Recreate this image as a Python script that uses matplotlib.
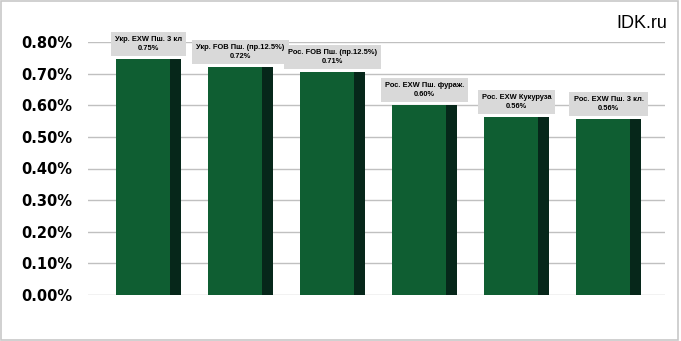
import numpy as np
import matplotlib.pyplot as plt
from matplotlib.patches import Rectangle

names = ["Укр. EXW Пш. 3 кл", "Укр. FOB Пш. (пр.12.5%)", "Рос. FOB Пш. (пр.12.5%)",
         "Рос. EXW Пш. фураж.", "Рос. EXW Кукуруза", "Рос. EXW Пш. 3 кл."]
values = [0.746, 0.720, 0.706, 0.601, 0.563, 0.557]   # percent
yticks = [0.0, 0.1, 0.2, 0.3, 0.4, 0.5, 0.6, 0.7, 0.8]

front_color = "#0f5e32"
side_color = "#06271a"

fig = plt.figure(figsize=(6.81, 3.41), dpi=100)
fig.patches.append(Rectangle((0.002, 0.004), 0.994, 0.992, transform=fig.transFigure,
                             fill=False, edgecolor="#c8c8c8", linewidth=1.2))

ax = fig.add_axes([88 / 681, 46 / 341, 577 / 681, 253 / 341])
x = np.arange(len(values))
front_w = 0.587
side_w = 0.12
left = x - (front_w + side_w) / 2

ax.bar(left, values, width=front_w, align="edge", color=front_color, zorder=3)
ax.bar(left + front_w, values, width=side_w, align="edge", color=side_color, zorder=3)

for xi, v, name in zip(x, values, names):
    ax.annotate(f"{name}\n{v:.2f}%", xy=(xi, v), xytext=(0, 5), textcoords="offset points",
                ha="center", va="bottom", fontsize=5.4, fontweight="bold",
                family="Liberation Sans", linespacing=1.4, annotation_clip=False, zorder=5,
                bbox=dict(boxstyle="square,pad=0.55", facecolor="#d9d9d9", edgecolor="none"))

ax.set_ylim(0, 0.8)
ax.set_xlim(-0.658, 5.614)
ax.set_yticks(yticks)
ax.set_yticklabels([f"{t:.2f}%" for t in yticks], fontsize=10.5, fontweight="bold")
ax.set_xticks([])
ax.tick_params(axis="y", length=0, pad=11)
ax.grid(axis="y", color="#c0c0c0", linewidth=1, zorder=0)
for s in ax.spines.values():
    s.set_visible(False)

fig.text(667 / 681, 1 - 23 / 341, "IDK.ru", ha="right", va="center", fontsize=13,
         family="Liberation Sans")

fig.savefig("out.png", dpi=100)
